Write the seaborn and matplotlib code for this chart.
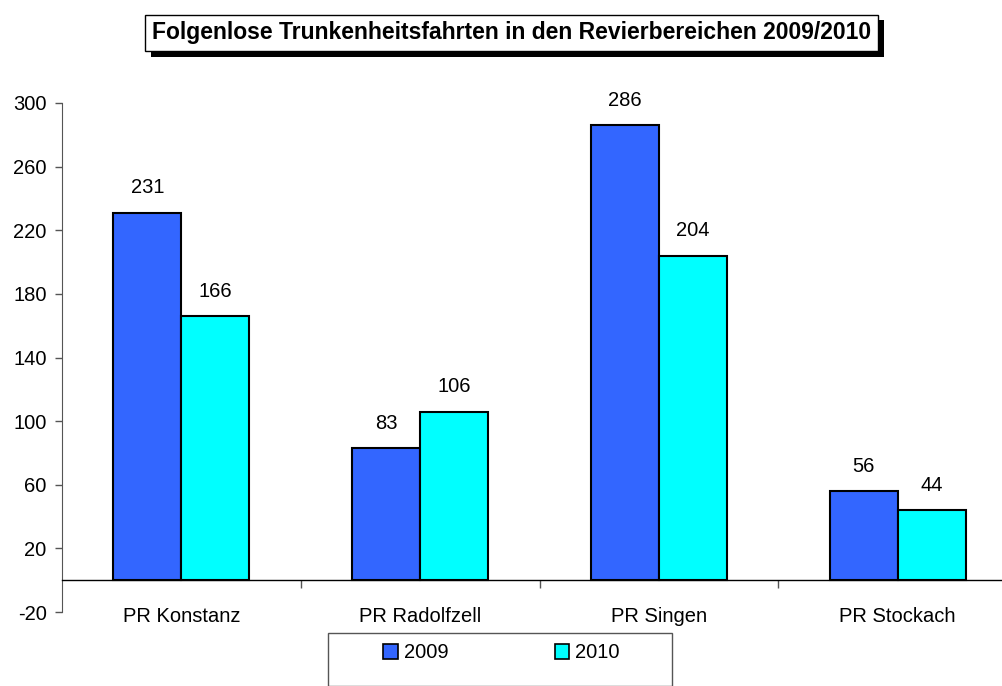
import pandas as pd
import matplotlib.pyplot as plt
import matplotlib.patheffects as pe
from matplotlib.patches import Rectangle
from matplotlib.ticker import FixedLocator
import seaborn as sns

# Daten
reviere = ["PR Konstanz", "PR Radolfzell", "PR Singen", "PR Stockach"]
jahre = ["2009", "2010"]
werte_2009 = [231, 83, 286, 56]
werte_2010 = [166, 106, 204, 44]
y_ticks = [-20, 20, 60, 100, 140, 180, 220, 260, 300]
farben = {"2009": "#3366FF", "2010": "#00FFFF"}

df = pd.DataFrame({
    "Revier": reviere * 2,
    "Jahr": [jahre[0]] * 4 + [jahre[1]] * 4,
    "Anzahl": werte_2009 + werte_2010,
})

sns.set_style("white")
plt.rcParams["font.family"] = ["Liberation Sans", "DejaVu Sans"]
plt.rcParams["text.color"] = "black"
plt.rcParams["xtick.color"] = "black"
plt.rcParams["ytick.color"] = "black"
plt.rcParams["axes.unicode_minus"] = False

fs = 14.5

fig = plt.figure(figsize=(10.03, 6.86), dpi=100)
ax = fig.add_axes([62 / 1003, 1 - 612 / 686, 955 / 1003, 509 / 686])

sns.barplot(data=df, x="Revier", y="Anzahl", hue="Jahr", palette=farben,
            width=0.57, edgecolor="black", linewidth=1.5, saturation=1,
            legend=False, ax=ax)

for cont in ax.containers:
    ax.bar_label(cont, padding=11, fontsize=fs, color="black")

ax.set_ylim(-20, 300)
ax.set_yticks(y_ticks)
ax.set_xlim(-0.5, 3.5)
ax.set_xlabel("")
ax.set_ylabel("")

# Achsen
for s in ["top", "right"]:
    ax.spines[s].set_visible(False)
ax.spines["left"].set_color("#555555")
ax.spines["bottom"].set_position(("data", 0))
ax.spines["bottom"].set_color("black")
ax.spines["bottom"].set_linewidth(1)
ax.tick_params(axis="y", left=True, length=5, width=1, color="#555555",
               labelcolor="black", labelsize=fs, pad=6)
ax.tick_params(axis="x", which="major", length=0, labelsize=fs,
               labelcolor="black", pad=19)
ax.xaxis.set_minor_locator(FixedLocator([0.5, 1.5, 2.5]))
ax.tick_params(axis="x", which="minor", bottom=True, length=6, width=1,
               color="#555555", direction="out")

# Titel mit Schatten
t = fig.text(0.51, 1 - 33 / 686, "Folgenlose Trunkenheitsfahrten in den Revierbereichen 2009/2010",
             ha="center", va="center", fontsize=16.5, fontweight="bold",
             bbox=dict(boxstyle="square,pad=0.3", fc="white", ec="black", lw=1))
t.get_bbox_patch().set_path_effects([
    pe.SimplePatchShadow(offset=(4, -4), shadow_rgbFace="black", alpha=1),
    pe.Normal(),
])

# Legende
fig.patches.append(Rectangle((328 / 1003, 0), 344 / 1003, 1 - 633 / 686,
                             transform=fig.transFigure, fill=False,
                             ec="#555555", lw=1))
handles = [Rectangle((0, 0), 1, 1, fc=farben[j], ec="black", lw=1.2) for j in jahre]
fig.legend(handles, jahre, loc="center", bbox_to_anchor=(0.5, 1 - 653 / 686),
           ncol=2, frameon=False, fontsize=fs, handlelength=0.7,
           handleheight=0.7, handletextpad=0.3, columnspacing=5.3)

plt.savefig("out.png", dpi=100)
